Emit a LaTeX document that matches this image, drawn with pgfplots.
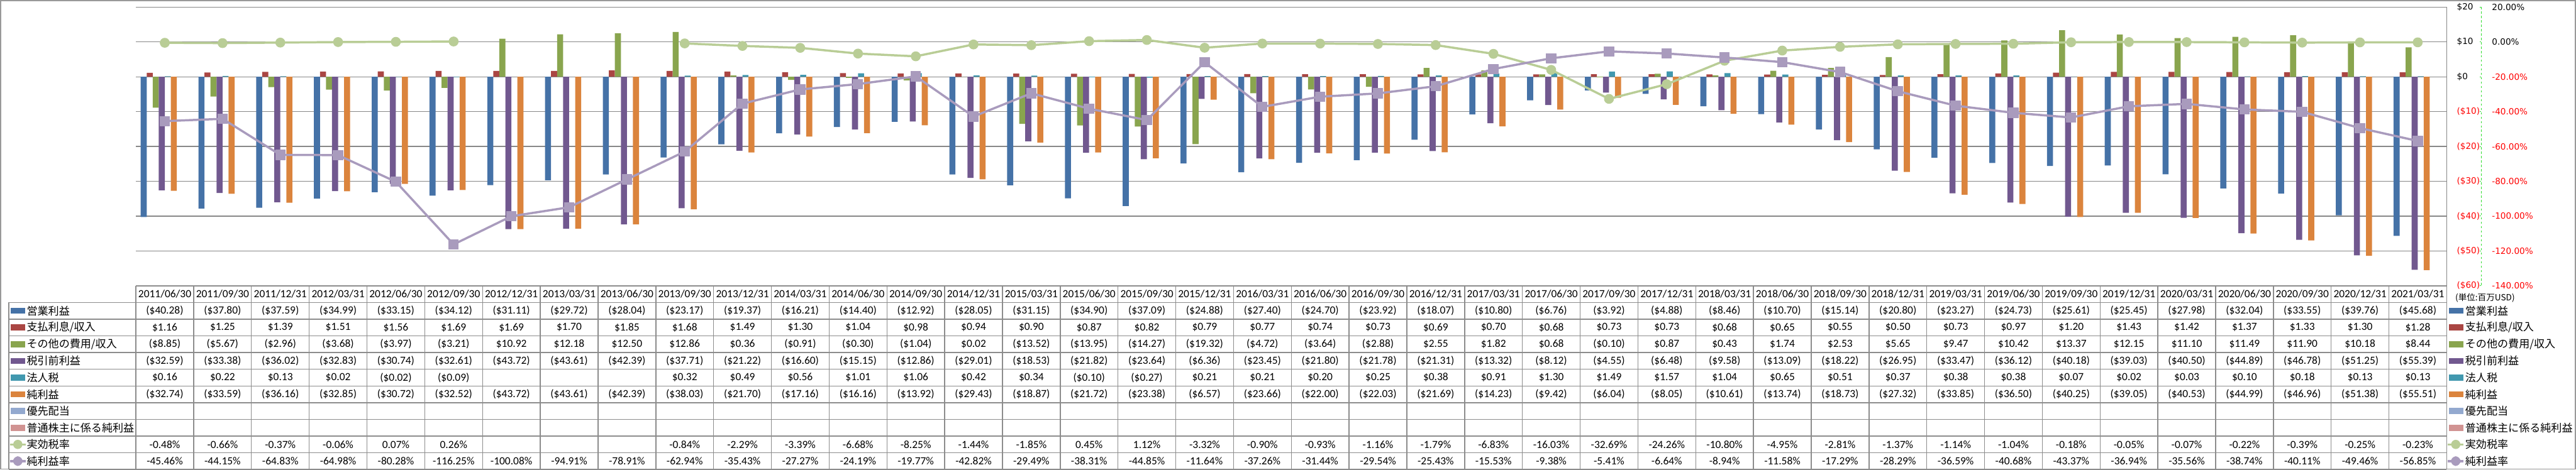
\documentclass[border=0pt]{standalone}
\usepackage{pgfplots}
\pgfplotsset{compat=1.18}
\usepackage{pgfplotstable}
\usepackage{fontspec}
\setmainfont{Carlito}
\newfontfamily\jp{Noto Sans CJK JP}
\newfontfamily\ax{DejaVu Sans}

\definecolor{cop}{HTML}{4572A7}
\definecolor{cint}{HTML}{AA4643}
\definecolor{coth}{HTML}{89A54E}
\definecolor{cpre}{HTML}{71588F}
\definecolor{ctax}{HTML}{4198AF}
\definecolor{cnet}{HTML}{DB843D}
\definecolor{cpref}{HTML}{93A9CF}
\definecolor{ccom}{HTML}{D19392}
\definecolor{cetr}{HTML}{B9CD96}
\definecolor{cnpm}{HTML}{A99BBD}
\definecolor{gridc}{HTML}{878787}
\definecolor{tabc}{HTML}{8C8C8C}
\definecolor{axg}{HTML}{33DD33}

% quarterly figures, million USD / percent
\pgfplotstableread{
idx date op int oth pre tax net etr npm
0 2011/06/30 -40.28 1.16 -8.85 -32.59 0.16 -32.74 -0.48 -45.46
1 2011/09/30 -37.80 1.25 -5.67 -33.38 0.22 -33.59 -0.66 -44.15
2 2011/12/31 -37.59 1.39 -2.96 -36.02 0.13 -36.16 -0.37 -64.83
3 2012/03/31 -34.99 1.51 -3.68 -32.83 0.02 -32.85 -0.06 -64.98
4 2012/06/30 -33.15 1.56 -3.97 -30.74 -0.02 -30.72 0.07 -80.28
5 2012/09/30 -34.12 1.69 -3.21 -32.61 -0.09 -32.52 0.26 -116.25
6 2012/12/31 -31.11 1.69 10.92 -43.72 nan -43.72 nan -100.08
7 2013/03/31 -29.72 1.70 12.18 -43.61 nan -43.61 nan -94.91
8 2013/06/30 -28.04 1.85 12.50 -42.39 nan -42.39 nan -78.91
9 2013/09/30 -23.17 1.68 12.86 -37.71 0.32 -38.03 -0.84 -62.94
10 2013/12/31 -19.37 1.49 0.36 -21.22 0.49 -21.70 -2.29 -35.43
11 2014/03/31 -16.21 1.30 -0.91 -16.60 0.56 -17.16 -3.39 -27.27
12 2014/06/30 -14.40 1.04 -0.30 -15.15 1.01 -16.16 -6.68 -24.19
13 2014/09/30 -12.92 0.98 -1.04 -12.86 1.06 -13.92 -8.25 -19.77
14 2014/12/31 -28.05 0.94 0.02 -29.01 0.42 -29.43 -1.44 -42.82
15 2015/03/31 -31.15 0.90 -13.52 -18.53 0.34 -18.87 -1.85 -29.49
16 2015/06/30 -34.90 0.87 -13.95 -21.82 -0.10 -21.72 0.45 -38.31
17 2015/09/30 -37.09 0.82 -14.27 -23.64 -0.27 -23.38 1.12 -44.85
18 2015/12/31 -24.88 0.79 -19.32 -6.36 0.21 -6.57 -3.32 -11.64
19 2016/03/31 -27.40 0.77 -4.72 -23.45 0.21 -23.66 -0.90 -37.26
20 2016/06/30 -24.70 0.74 -3.64 -21.80 0.20 -22.00 -0.93 -31.44
21 2016/09/30 -23.92 0.73 -2.88 -21.78 0.25 -22.03 -1.16 -29.54
22 2016/12/31 -18.07 0.69 2.55 -21.31 0.38 -21.69 -1.79 -25.43
23 2017/03/31 -10.80 0.70 1.82 -13.32 0.91 -14.23 -6.83 -15.53
24 2017/06/30 -6.76 0.68 0.68 -8.12 1.30 -9.42 -16.03 -9.38
25 2017/09/30 -3.92 0.73 -0.10 -4.55 1.49 -6.04 -32.69 -5.41
26 2017/12/31 -4.88 0.73 0.87 -6.48 1.57 -8.05 -24.26 -6.64
27 2018/03/31 -8.46 0.68 0.43 -9.58 1.04 -10.61 -10.80 -8.94
28 2018/06/30 -10.70 0.65 1.74 -13.09 0.65 -13.74 -4.95 -11.58
29 2018/09/30 -15.14 0.55 2.53 -18.22 0.51 -18.73 -2.81 -17.29
30 2018/12/31 -20.80 0.50 5.65 -26.95 0.37 -27.32 -1.37 -28.29
31 2019/03/31 -23.27 0.73 9.47 -33.47 0.38 -33.85 -1.14 -36.59
32 2019/06/30 -24.73 0.97 10.42 -36.12 0.38 -36.50 -1.04 -40.68
33 2019/09/30 -25.61 1.20 13.37 -40.18 0.07 -40.25 -0.18 -43.37
34 2019/12/31 -25.45 1.43 12.15 -39.03 0.02 -39.05 -0.05 -36.94
35 2020/03/31 -27.98 1.42 11.10 -40.50 0.03 -40.53 -0.07 -35.56
36 2020/06/30 -32.04 1.37 11.49 -44.89 0.10 -44.99 -0.22 -38.74
37 2020/09/30 -33.55 1.33 11.90 -46.78 0.18 -46.96 -0.39 -40.11
38 2020/12/31 -39.76 1.30 10.18 -51.25 0.13 -51.38 -0.25 -49.46
39 2021/03/31 -45.68 1.28 8.44 -55.39 0.13 -55.51 -0.23 -56.85
}\data

\def\stripminus-#1\relax{#1}
\newcommand\money[1]{\ifdim#1pt<0pt (\$\expandafter\stripminus#1\relax)\else\$#1\fi}
% row centre (scope units, 1 unit = 1 px of the reference)
\newcommand\rowy[1]{320.75-30.5*#1}

\newcommand\legbar[3]{%
  \fill[#2] (20,{\rowy{#1}-5.5}) rectangle (46,{\rowy{#1}+5.5});
  \node[jptxt] at (48,{\rowy{#1}}) {#3};
  \fill[#2] (4469,{\rowy{#1}-5.5}) rectangle (4495,{\rowy{#1}+5.5});
  \node[jptxt] at (4498,{\rowy{#1}}) {#3};
}

\pgfplotsset{chartaxis/.style={
    at={(62pt,84pt)}, anchor=south west,
    scale only axis, width=1054.25pt, height=127.25pt,
    xmin=-0.5, xmax=39.5, xtick=\empty,
    yticklabel pos=right,
    axis line style={draw=none}, major tick length=0pt,
    clip=false}}

\begin{document}
\begin{tikzpicture}
  \useasboundingbox (0,0) rectangle (1175.25pt,214.5pt);

  \begin{axis}[chartaxis,
      ymin=-60, ymax=20, ytick={-60,-50,...,20},
      yticklabels={{\color{red}(\$60)},{\color{red}(\$50)},{\color{red}(\$40)},{\color{red}(\$30)},{\color{red}(\$20)},{\color{red}(\$10)},\$0,\$10,\$20},
      yticklabel style={font=\ax\fontsize{3.9pt}{4pt}\selectfont, anchor=west, inner sep=0pt, xshift=4.5pt},
      ymajorgrids, grid style={gridc, line width=0.4pt}]
    \addplot[ybar, bar width=2.75pt, bar shift=-9.625pt, fill=cop, draw=none] table[x=idx,y=op]{\data};
    \addplot[ybar, bar width=2.75pt, bar shift=-6.875pt, fill=cint, draw=none] table[x=idx,y=int]{\data};
    \addplot[ybar, bar width=2.75pt, bar shift=-4.125pt, fill=coth, draw=none] table[x=idx,y=oth]{\data};
    \addplot[ybar, bar width=2.75pt, bar shift=-1.375pt, fill=cpre, draw=none] table[x=idx,y=pre]{\data};
    \addplot[ybar, bar width=2.75pt, bar shift=1.375pt, fill=ctax, draw=none] table[x=idx,y=tax]{\data};
    \addplot[ybar, bar width=2.75pt, bar shift=4.125pt, fill=cnet, draw=none] table[x=idx,y=net]{\data};
  \end{axis}

  \begin{axis}[chartaxis,
      ymin=-140, ymax=20, ytick={-140,-120,...,20},
      yticklabels={{\color{red}-140.00\%},{\color{red}-120.00\%},{\color{red}-100.00\%},{\color{red}-80.00\%},{\color{red}-60.00\%},{\color{red}-40.00\%},{\color{red}-20.00\%},0.00\%,20.00\%},
      yticklabel style={font=\ax\fontsize{3.9pt}{4pt}\selectfont, anchor=west, inner sep=0pt, xshift=20.5pt}]
    \addplot[cetr, line width=1pt, line join=round, mark=*, mark size=2.1pt,
      mark options={fill=cetr, draw=cetr, line width=0.3pt}, unbounded coords=jump]
      table[x=idx,y=etr]{\data};
    \addplot[cnpm, line width=1pt, line join=round, mark=square*, mark size=2.2pt,
      mark options={fill=cnpm, draw=cnpm, line width=0.3pt, rounded corners=0.6pt}]
      table[x=idx,y=npm]{\data};
  \end{axis}

  \begin{scope}[x=0.25pt,y=0.25pt,
      tabtxt/.style={font=\fontsize{5pt}{6pt}\selectfont, inner sep=0pt},
      jptxt/.style={font=\jp\fontsize{4.9pt}{6pt}\selectfont, inner sep=0pt, anchor=west}]
  \draw[gray!80, line width=0.4pt] (1,1) rectangle (4700,857);
  % plot frame on the right and secondary axis line
  \draw[gridc, line width=0.4pt] (4465,845) -- (4465,336);
  \draw[axg, line width=0.3pt, dash pattern=on 1pt off 1pt] (4528,845) -- (4528,336);
  \foreach \k in {0,...,8} \draw[axg, line width=0.3pt] (4525,{336+63.625*\k}) -- (4528,{336+63.625*\k});
  \node[font=\jp\fontsize{3.9pt}{4pt}\selectfont, inner sep=0pt, anchor=west] at (4480,314) {(単位:百万USD)};

  % data table grid
  \draw[tabc, line width=0.4pt] (248,336) -- (4465,336);
  \foreach \k in {0,...,10} \draw[tabc, line width=0.4pt] (16,{305.5-30.5*\k}) -- (4465,{305.5-30.5*\k});
  \draw[tabc, line width=0.4pt] (16,305.5) -- (16,0.5);
  \foreach \k in {0,...,40} \draw[tabc, line width=0.4pt] ({248+105.425*\k},336) -- ({248+105.425*\k},0.5);

  % header dates
  \foreach \i in {0,...,39}{
    \pgfplotstablegetelem{\i}{date}\of\data
    \node[tabtxt] at ({248+105.425*(\i+0.5)},{\rowy{0}}) {\pgfplotsretval};
  }
  % table values
  \foreach \col/\r/\kind in {op/1/m,int/2/m,oth/3/m,pre/4/m,tax/5/m,net/6/m,etr/9/p,npm/10/p}{
    \foreach \i in {0,...,39}{
      \pgfplotstablegetelem{\i}{\col}\of\data
      \edef\cellv{\pgfplotsretval}
      \ifnum\strcmp{\cellv}{nan}=0 \else
        \ifnum\strcmp{\kind}{m}=0
          \node[tabtxt] at ({248+105.425*(\i+0.5)},{\rowy{\r}}) {\money{\cellv}};
        \else
          \node[tabtxt] at ({248+105.425*(\i+0.5)},{\rowy{\r}}) {\cellv\%};
        \fi
      \fi
    }
  }

  % legend keys, left of the table and at the right
  \legbar{1}{cop}{営業利益}
  \legbar{2}{cint}{支払利息/収入}
  \legbar{3}{coth}{その他の費用/収入}
  \legbar{4}{cpre}{税引前利益}
  \legbar{5}{ctax}{法人税}
  \legbar{6}{cnet}{純利益}
  \legbar{7}{cpref}{優先配当}
  \legbar{8}{ccom}{普通株主に係る純利益}
  \foreach \x in {18,4467}{
    \draw[cetr, line width=1pt] (\x,{\rowy{9}}) -- ({\x+29},{\rowy{9}});
    \fill[cetr] ({\x+14.5},{\rowy{9}}) circle (8.4);
    \draw[cnpm, line width=1pt] (\x,{\rowy{10}}) -- ({\x+29},{\rowy{10}});
    \fill[cnpm, rounded corners=2.4] ({\x+14.5-8.8},{\rowy{10}-8.8}) rectangle ({\x+14.5+8.8},{\rowy{10}+8.8});
  }
  \node[jptxt] at (48,{\rowy{9}}) {実効税率};
  \node[jptxt] at (48,{\rowy{10}}) {純利益率};
  \node[jptxt] at (4498,{\rowy{9}}) {実効税率};
  \node[jptxt] at (4498,{\rowy{10}}) {純利益率};
  \end{scope}
\end{tikzpicture}
\end{document}
